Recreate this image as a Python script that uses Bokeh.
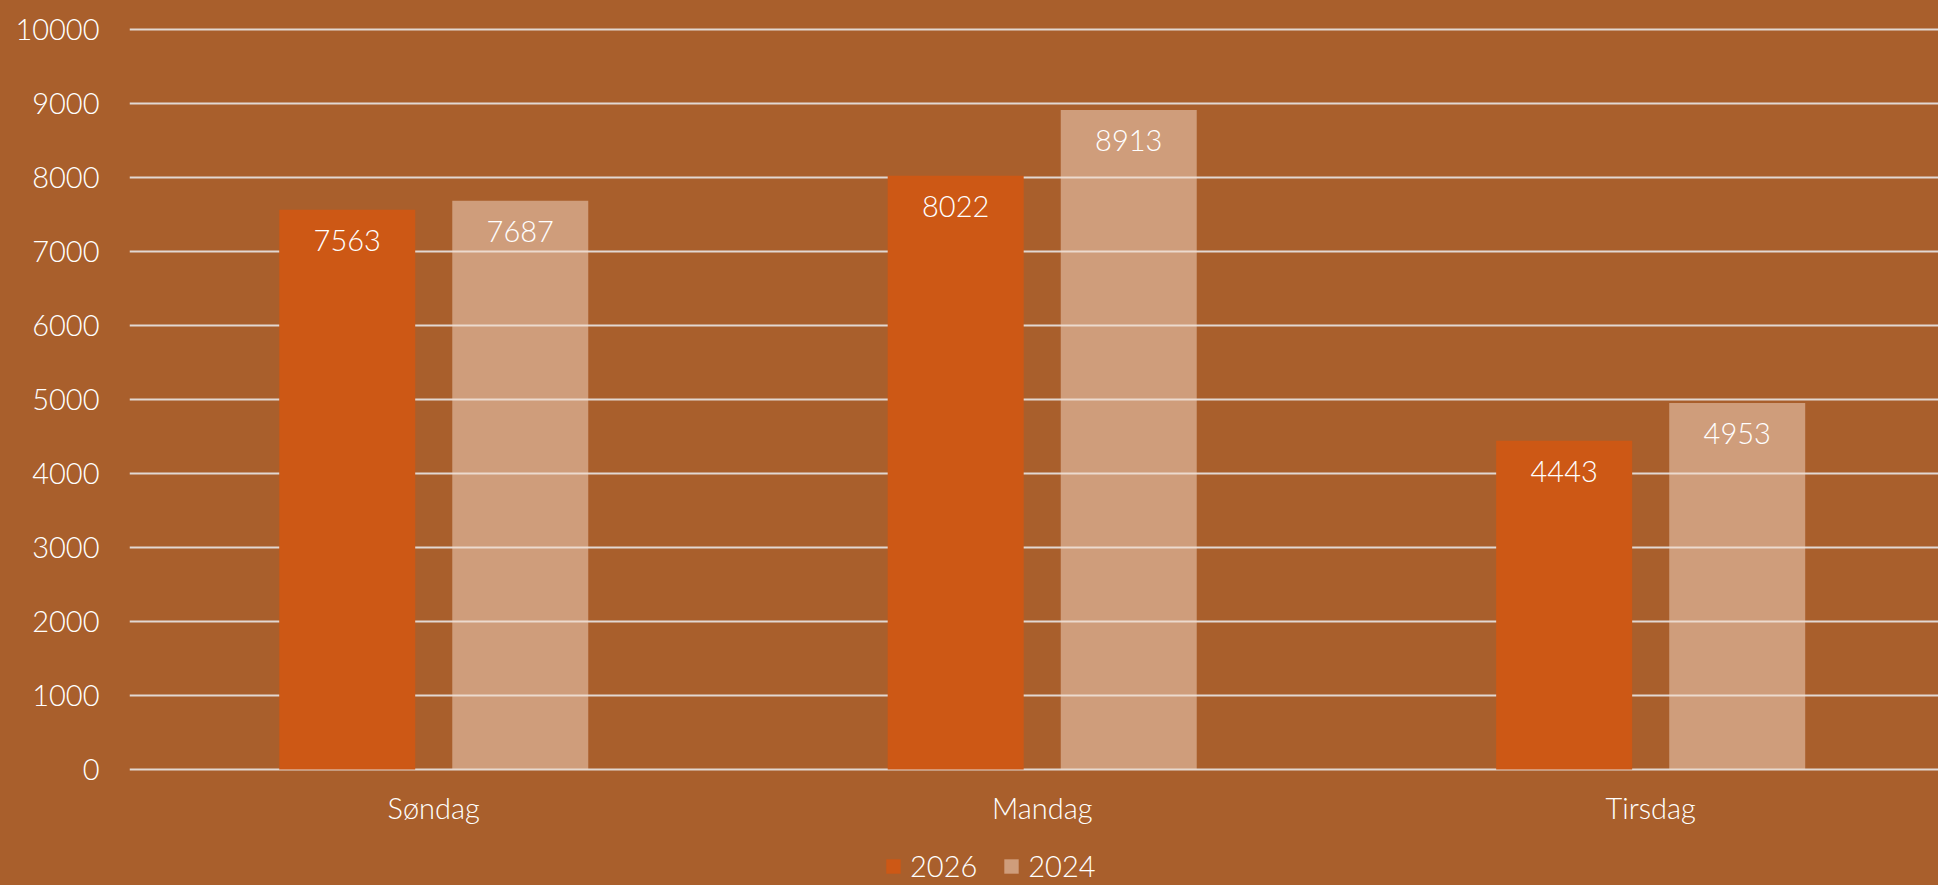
from bokeh.plotting import figure
from bokeh.models import ColumnDataSource, FixedTicker, Legend, LegendItem, LabelSet, Range1d
from bokeh.core.properties import value
from bokeh.embed import file_html
from bokeh.resources import INLINE

categories = ["Søndag", "Mandag", "Tirsdag"]
series_names = ["2026", "2024"]
values_2026 = [7563, 8022, 4443]
values_2024 = [7687, 8913, 4953]
y_ticks = [0, 1000, 2000, 3000, 4000, 5000, 6000, 7000, 8000, 9000, 10000]

BG = "#A95F2C"
C2026 = "#CD5815"
C2024 = "#F5DBC9"
FONT = "Lato Light, Lato"

xs = list(range(len(categories)))
off = 0.1422
bw = 0.2235

src26 = ColumnDataSource(dict(x=[i - off for i in xs], top=values_2026,
                              lab=[str(v) for v in values_2026]))
src24 = ColumnDataSource(dict(x=[i + off for i in xs], top=values_2024,
                              lab=[str(v) for v in values_2024]))
src_cat = ColumnDataSource(dict(x=xs, y=[0] * len(xs), lab=categories))

# frame runs to the bottom edge; the space below 0 holds category labels and legend
p = figure(width=1938, height=885, output_backend="svg", toolbar_location=None,
           x_range=Range1d(-0.5, 2.473), y_range=Range1d(-1567.6, 10121.6),
           min_border_left=129, min_border_top=20, min_border_right=0,
           min_border_bottom=0)

p.styles = {"background-color": BG}
p.border_fill_alpha = 0
p.background_fill_alpha = 0
p.outline_line_color = None

r26 = p.vbar(x="x", top="top", width=bw, source=src26, fill_color=C2026, line_color=None)
r24 = p.vbar(x="x", top="top", width=bw, source=src24, fill_color=C2024, fill_alpha=0.5,
             line_color=None)

for s in (src26, src24):
    p.add_layout(LabelSet(x="x", y="top", text="lab", source=s, y_offset=-31,
                          text_align="center", text_baseline="middle",
                          text_color="white", text_font_size="29px",
                          text_font=value(FONT)))

# category labels under the zero line
p.add_layout(LabelSet(x="x", y="y", text="lab", source=src_cat, y_offset=-38,
                      text_align="center", text_baseline="middle",
                      text_color="white", text_font_size="29px",
                      text_font=value(FONT)))

p.xgrid.visible = False
p.xaxis.visible = False
p.ygrid.ticker = FixedTicker(ticks=y_ticks)
p.ygrid.grid_line_color = "#E2D8D2"
p.ygrid.grid_line_width = 2

p.yaxis.ticker = FixedTicker(ticks=y_ticks)
p.yaxis.axis_line_color = None
p.yaxis.major_tick_line_color = None
p.yaxis.minor_tick_line_color = None
p.yaxis.major_label_standoff = 24
p.yaxis.major_label_text_color = "white"
p.yaxis.major_label_text_font_size = "29px"
p.yaxis.major_label_text_font = FONT

legend = Legend(items=[LegendItem(label=series_names[0], renderers=[r26]),
                       LegendItem(label=series_names[1], renderers=[r24])],
                location=(755, 2), orientation="horizontal",
                glyph_width=18, glyph_height=18, label_standoff=8, spacing=25,
                padding=0, margin=0, border_line_color=None,
                background_fill_alpha=0, label_text_color="white",
                label_text_font_size="29px", label_text_font=FONT)
p.add_layout(legend, "center")

open("out.html", "w").write(file_html(p, INLINE))
